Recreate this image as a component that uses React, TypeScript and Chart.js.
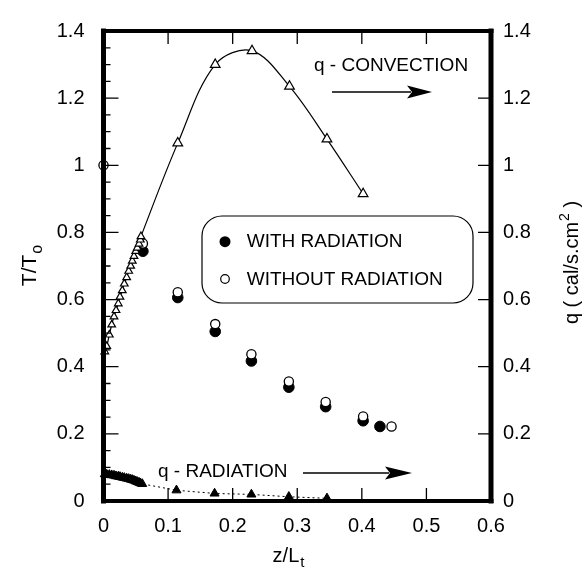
import React, { useEffect, useRef } from 'react';
import { Chart, registerables } from 'chart.js';

Chart.register(...registerables);

// ---- data ----
const convZ = [0.002, 0.005, 0.009, 0.0127, 0.0163, 0.0194, 0.0229, 0.0255, 0.0291, 0.0322, 0.0359, 0.039, 0.0421, 0.0446, 0.0472, 0.0499, 0.0523, 0.055, 0.057, 0.058, 0.115, 0.173, 0.23, 0.288, 0.346, 0.402];
const convQ = [0.445, 0.461, 0.495, 0.525, 0.549, 0.568, 0.588, 0.608, 0.627, 0.647, 0.666, 0.685, 0.7, 0.715, 0.729, 0.744, 0.754, 0.766, 0.778, 0.788, 1.066, 1.3, 1.341, 1.235, 1.078, 0.915];

const radZ = [0.002, 0.005, 0.009, 0.0127, 0.0163, 0.0194, 0.0229, 0.0255, 0.0291, 0.0322, 0.0359, 0.039, 0.0421, 0.0446, 0.0472, 0.0499, 0.0523, 0.055, 0.057, 0.06, 0.113, 0.172, 0.229, 0.287, 0.346];
const radQ = [0.08, 0.079, 0.078, 0.077, 0.076, 0.074, 0.073, 0.072, 0.07, 0.069, 0.067, 0.066, 0.064, 0.063, 0.061, 0.059, 0.057, 0.055, 0.053, 0.051, 0.032, 0.0225, 0.0196, 0.0126, 0.008];

const withZ = [0.061, 0.115, 0.173, 0.229, 0.287, 0.344, 0.402, 0.428];
const withT = [0.744, 0.606, 0.505, 0.417, 0.339, 0.281, 0.239, 0.222];

const withoutZ = [0, 0.061, 0.115, 0.173, 0.229, 0.287, 0.344, 0.402, 0.446];
const withoutT = [1.0, 0.767, 0.622, 0.527, 0.437, 0.356, 0.295, 0.252, 0.222];

const legendLabels = ['WITH RADIATION', 'WITHOUT RADIATION'];
const convLabel = 'q - CONVECTION';
const radLabel = 'q - RADIATION';
const leftTitle = ['T/T', 'o'];
const rightTitle = ['q ( cal/s.cm', '2', ' )'];
const xTitle = ['z/L', 't'];

const xMin = 0, xMax = 0.6, xStep = 0.1;
const yMin = 0, yMax = 1.4, yStep = 0.2, yMinorStep = 0.05;

const FONT = '"Liberation Sans", Arial, Helvetica, sans-serif';

const pts = (xs: number[], ys: number[]) => xs.map((x, i) => ({ x, y: ys[i] }));
const fmt = (v: any) => String(+Number(v).toFixed(2));

function arrow(ctx: CanvasRenderingContext2D, x0: number, x1: number, y: number, headLen: number, half: number) {
  ctx.beginPath();
  ctx.lineWidth = 1.3;
  ctx.moveTo(x0, y);
  ctx.lineTo(x1 - headLen + 4, y);
  ctx.stroke();
  ctx.beginPath();
  ctx.moveTo(x1, y);
  ctx.lineTo(x1 - headLen, y - half);
  ctx.lineTo(x1 - headLen + 5, y);
  ctx.lineTo(x1 - headLen, y + half);
  ctx.closePath();
  ctx.fill();
}

const decorPlugin = {
  id: 'decor',
  afterDatasetsDraw(chart: any) {
    const ctx: CanvasRenderingContext2D = chart.ctx;
    const { left, right, top, bottom } = chart.chartArea;
    const xs = chart.scales.x, yl = chart.scales.y, yr = chart.scales.y2;
    ctx.save();
    ctx.fillStyle = '#000';
    // frame
    ctx.fillRect(left - 2.5, top - 2.5, 5, bottom - top + 5);
    ctx.fillRect(right - 2.5, top - 2.5, 5, bottom - top + 5);
    ctx.fillRect(left - 2.5, top - 2, right - left + 5, 4);
    ctx.fillRect(left - 2.5, bottom - 2, right - left + 5, 4);
    // ticks
    ctx.strokeStyle = '#000';
    ctx.lineWidth = 1.3;
    ctx.beginPath();
    const nMinor = Math.round((yMax - yMin) / yMinorStep);
    const per = Math.round(yStep / yMinorStep);
    for (let i = 0; i <= nMinor; i++) {
      const py = yl.getPixelForValue(yMin + i * yMinorStep);
      const len = i % per === 0 ? 15 : 7;
      ctx.moveTo(left, py);
      ctx.lineTo(left + len, py);
    }
    yr.ticks.forEach((t: any) => {
      const py = yr.getPixelForValue(t.value);
      ctx.moveTo(right, py);
      ctx.lineTo(right - 13, py);
    });
    xs.ticks.forEach((t: any) => {
      const px = xs.getPixelForValue(t.value);
      ctx.moveTo(px, bottom);
      ctx.lineTo(px, bottom - 13);
      ctx.moveTo(px, top);
      ctx.lineTo(px, top + 13);
    });
    ctx.stroke();
    ctx.restore();
  },
  afterDraw(chart: any) {
    const ctx: CanvasRenderingContext2D = chart.ctx;
    const { top, bottom } = chart.chartArea;
    ctx.save();
    ctx.fillStyle = '#000';
    ctx.strokeStyle = '#000';

    // legend box
    const bx = 202, by = 216, bw = 271, bh = 87, r = 20;
    ctx.lineWidth = 1.2;
    ctx.beginPath();
    ctx.moveTo(bx + r, by);
    ctx.lineTo(bx + bw - r, by);
    ctx.arcTo(bx + bw, by, bx + bw, by + r, r);
    ctx.lineTo(bx + bw, by + bh - r);
    ctx.arcTo(bx + bw, by + bh, bx + bw - r, by + bh, r);
    ctx.lineTo(bx + r, by + bh);
    ctx.arcTo(bx, by + bh, bx, by + bh - r, r);
    ctx.lineTo(bx, by + r);
    ctx.arcTo(bx, by, bx + r, by, r);
    ctx.closePath();
    ctx.fillStyle = '#fff';
    ctx.fill();
    ctx.stroke();
    ctx.fillStyle = '#000';
    // legend markers
    ctx.beginPath();
    ctx.arc(225, 241.7, 5.5, 0, Math.PI * 2);
    ctx.fill();
    ctx.beginPath();
    ctx.lineWidth = 1.2;
    ctx.arc(225, 279, 4.3, 0, Math.PI * 2);
    ctx.stroke();
    ctx.font = `19px ${FONT}`;
    ctx.textBaseline = 'middle';
    ctx.textAlign = 'left';
    ctx.fillText(legendLabels[0], 246.7, 242);
    ctx.fillText(legendLabels[1], 246.7, 279.5);

    // annotations
    ctx.textBaseline = 'alphabetic';
    ctx.fillText(convLabel, 314, 70.5);
    arrow(ctx, 332, 432, 92, 25, 6.5);
    ctx.fillText(radLabel, 158, 476.5);
    arrow(ctx, 303, 412, 473, 27, 6.5);

    // left title
    ctx.save();
    ctx.translate(36, (top + bottom) / 2);
    ctx.rotate(-Math.PI / 2);
    ctx.font = `21px ${FONT}`;
    const w1 = ctx.measureText(leftTitle[0]).width;
    ctx.font = `16px ${FONT}`;
    const w2 = ctx.measureText(leftTitle[1]).width;
    const s = -(w1 + w2) / 2;
    ctx.font = `21px ${FONT}`;
    ctx.fillText(leftTitle[0], s, 0);
    ctx.font = `16px ${FONT}`;
    ctx.fillText(leftTitle[1], s + w1 + 1, 6);
    ctx.restore();

    // right title
    ctx.save();
    ctx.translate(578, 263);
    ctx.rotate(-Math.PI / 2);
    ctx.font = `20px ${FONT}`;
    const r1 = ctx.measureText(rightTitle[0]).width;
    const r3 = ctx.measureText(rightTitle[2]).width;
    ctx.font = `14px ${FONT}`;
    const r2 = ctx.measureText(rightTitle[1]).width;
    const rs = -(r1 + r2 + r3) / 2;
    ctx.font = `20px ${FONT}`;
    ctx.fillText(rightTitle[0], rs, 0);
    ctx.fillText(rightTitle[2], rs + r1 + r2 + 1, 0);
    ctx.font = `14px ${FONT}`;
    ctx.fillText(rightTitle[1], rs + r1 + 1, -9);
    ctx.restore();

    // x title
    ctx.font = `20px ${FONT}`;
    const x1 = ctx.measureText(xTitle[0]).width;
    ctx.font = `15px ${FONT}`;
    const x2 = ctx.measureText(xTitle[1]).width;
    const xsx = 288 - (x1 + x2) / 2;
    ctx.font = `20px ${FONT}`;
    ctx.fillText(xTitle[0], xsx, 562);
    ctx.font = `15px ${FONT}`;
    ctx.fillText(xTitle[1], xsx + x1 + 1, 567);

    ctx.restore();
  },
};

export default function App() {
  const ref = useRef<HTMLCanvasElement>(null);
  useEffect(() => {
    if (!ref.current) return;
    const tickFont = { family: FONT, size: 20 };
    const chart = new Chart(ref.current, {
      type: 'scatter',
      data: {
        datasets: [
          {
            label: legendLabels[0],
            data: pts(withZ, withT),
            yAxisID: 'y',
            pointStyle: 'circle',
            pointRadius: 5.3,
            backgroundColor: '#000',
            borderColor: '#000',
            borderWidth: 1,
            showLine: false,
            order: 4,
            clip: false as any,
          },
          {
            label: legendLabels[1],
            data: pts(withoutZ, withoutT),
            yAxisID: 'y',
            pointStyle: 'circle',
            pointRadius: 4.6,
            backgroundColor: '#fff',
            borderColor: '#000',
            borderWidth: 1.3,
            showLine: false,
            order: 3,
            clip: false as any,
          },
          {
            label: radLabel,
            data: pts(radZ, radQ),
            yAxisID: 'y2',
            pointStyle: 'triangle',
            pointRadius: 5.2,
            backgroundColor: '#000',
            borderColor: '#000',
            borderWidth: 1,
            pointBorderWidth: 1,
            showLine: true,
            borderDash: [2, 3],
            tension: 0,
            order: 2,
            clip: false as any,
          },
          {
            label: convLabel,
            data: pts(convZ, convQ),
            yAxisID: 'y2',
            pointStyle: 'triangle',
            pointRadius: (c: any) => (c.raw && c.raw.x < 0.07 ? 4.4 : 5.6),
            pointBackgroundColor: '#fff',
            pointBorderColor: '#000',
            pointBorderWidth: 1.2,
            borderColor: '#000',
            borderWidth: 1.2,
            showLine: true,
            tension: 0.35,
            order: 1,
            clip: false as any,
          },
        ],
      },
      options: {
        responsive: false,
        animation: false,
        events: [],
        layout: { padding: { top: 22.5, left: 0, right: 0, bottom: 0 } },
        plugins: { legend: { display: false }, tooltip: { enabled: false }, title: { display: false } },
        scales: {
          x: {
            type: 'linear',
            position: 'bottom',
            min: xMin,
            max: xMax,
            ticks: { stepSize: xStep, color: '#000', font: tickFont, padding: 13, maxRotation: 0, autoSkip: false, callback: fmt },
            grid: { display: false, drawTicks: false },
            border: { display: false },
            afterFit: (s: any) => { s.height = 74; },
          },
          y: {
            type: 'linear',
            position: 'left',
            min: yMin,
            max: yMax,
            ticks: { stepSize: yStep, color: '#000', font: tickFont, padding: 19, callback: fmt },
            grid: { display: false, drawTicks: false },
            border: { display: false },
            afterFit: (s: any) => { s.width = 103.5; },
          },
          y2: {
            type: 'linear',
            position: 'right',
            min: yMin,
            max: yMax,
            ticks: { stepSize: yStep, color: '#000', font: tickFont, padding: 12, callback: fmt },
            grid: { display: false, drawTicks: false },
            border: { display: false },
            afterFit: (s: any) => { s.width = 94; },
          },
        },
      },
      plugins: [decorPlugin],
    } as any);
    return () => chart.destroy();
  }, []);
  return (
    <div style={{ position: 'fixed', left: 0, top: 0, width: 585, height: 575, background: '#fff' }}>
      <canvas ref={ref} width={585} height={575} style={{ display: 'block' }} />
    </div>
  );
}
